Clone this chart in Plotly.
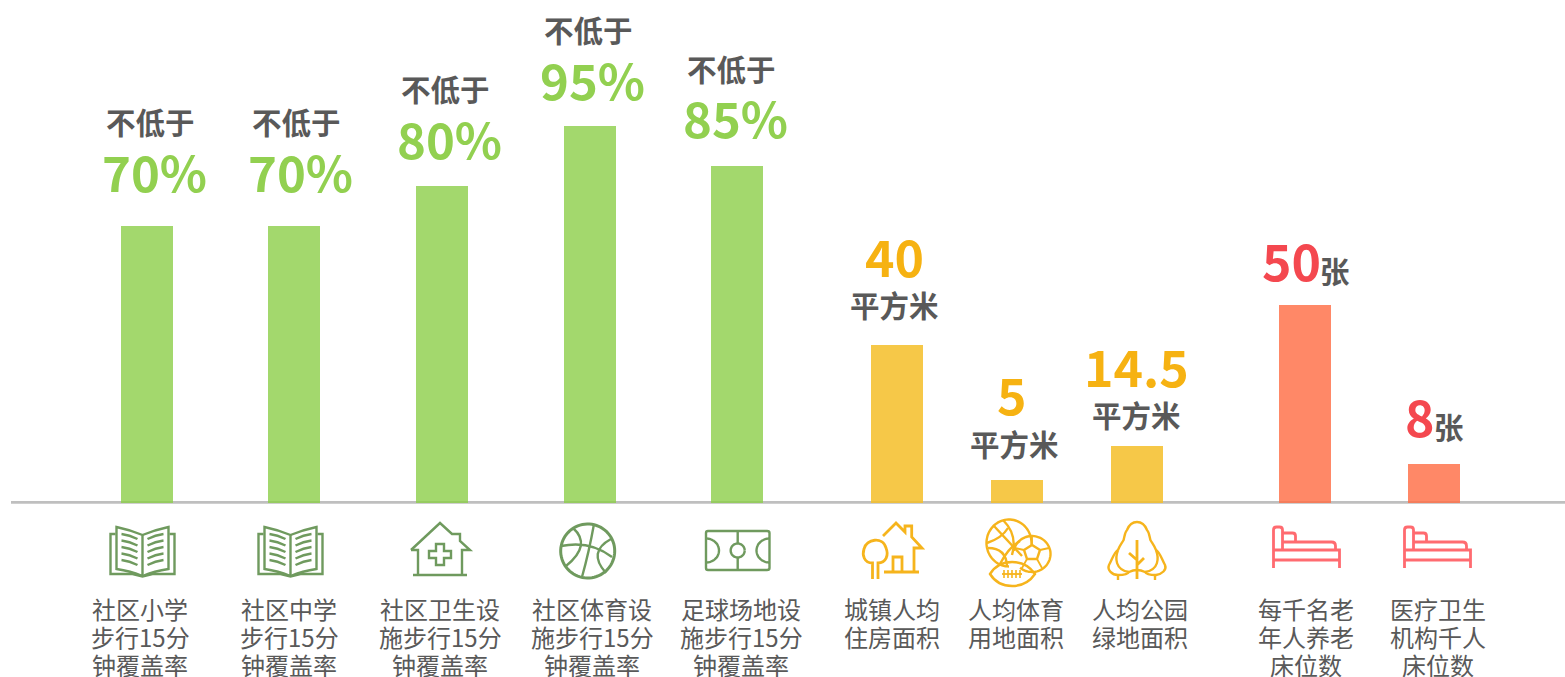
import numpy as np
import plotly.graph_objects as go

# ---------- data ----------
green_categories = ["社区小学<br>步行15分<br>钟覆盖率", "社区中学<br>步行15分<br>钟覆盖率", "社区卫生设<br>施步行15分<br>钟覆盖率",
                    "社区体育设<br>施步行15分<br>钟覆盖率", "足球场地设<br>施步行15分<br>钟覆盖率"]
yellow_categories = ["城镇人均<br>住房面积", "人均体育<br>用地面积", "人均公园<br>绿地面积"]
red_categories = ["每千名老<br>年人养老<br>床位数", "医疗卫生<br>机构千人<br>床位数"]
green_values = [69.25, 69.25, 79.25, 94.25, 84.25]
yellow_values = [39.5, 5.75, 14.25]
red_values = [49.5, 9.75]
green_labels = ["70%", "70%", "80%", "95%", "85%"]
yellow_labels = ["40", "5", "14.5"]
red_labels = ["50", "8"]
prefix_text = "不低于"
area_unit = "平方米"
bed_unit = "张"

# ---------- layout constants ----------
W, H = 1565, 677
BASE = 503
green_x = [147, 294, 442, 590, 737]
yellow_x = [897, 1017, 1137]
red_x = [1305, 1434]
GREY = "#595959"
BAR_G, BAR_Y, BAR_R = "rgba(140,206,72,0.8)", "rgba(245,190,40,0.85)", "rgba(255,110,70,0.82)"
TXT_G, TXT_Y, TXT_R = "#92D050", "#F6B212", "#F4484F"
ICON_G, ICON_Y, ICON_R = "#6F9A5E", "#F6B41C", "#FF6B70"
FONT = "Noto Sans CJK SC"

fig = go.Figure()
for xs, ys, c in [(green_x, green_values, BAR_G), (yellow_x, yellow_values, BAR_Y), (red_x, red_values, BAR_R)]:
    fig.add_trace(go.Bar(x=xs, y=ys, width=52, marker=dict(color=c, line=dict(width=0)),
                         hoverinfo="skip", showlegend=False))
fig.add_trace(go.Scatter(x=[0], y=[0], yaxis="y2", mode="markers", marker=dict(opacity=0),
                         hoverinfo="skip", showlegend=False))


def note(x, y, text, size, color, bold=True):
    fig.add_annotation(x=x, y=y, xref="x", yref="y2", text=text, showarrow=False, xanchor="center", yanchor="middle",
                       font=dict(family=FONT, size=size, color=color, weight=700 if bold else 400))


# value labels
for x, y, t in zip([150, 296, 445, 588, 731], [121, 121, 88, 29, 68], [prefix_text] * 5):
    note(x, y, t, 29.5, GREY)
for x, y, t in zip([154, 300, 449, 592, 735], [170, 170, 137, 78, 116], green_labels):
    note(x, y, t, 49, TXT_G)
for x, y, t in zip([894, 1012, 1136], [255, 393, 365], yellow_labels):
    note(x, y, t, 50, TXT_Y)
for x, y in zip([894, 1014, 1136], [304, 443, 414]):
    note(x, y, area_unit, 29.5, GREY)
for x, y, t in zip([1291, 1420], [259, 415], red_labels):
    note(x, y, t, 50, TXT_R)
for x, y in zip([1335, 1449], [270, 426]):
    note(x, y, bed_unit, 29.5, GREY)

# category labels, one annotation per line for the tight leading
cat_x = [140, 289, 440, 592, 741, 892, 1016, 1140, 1306, 1438]
for x, cat in zip(cat_x, green_categories + yellow_categories + red_categories):
    for i, line in enumerate(cat.split("<br>")):
        note(x, 608 + 28 * i, line, 24, GREY, bold=False)


# ---------- icons, in pixel coordinates ----------
def shape(path, color, width=2.4):
    fig.add_shape(type="path", path=path, xref="x", yref="y2", line=dict(color=color, width=width),
                  fillcolor="rgba(0,0,0,0)", layer="above")


def arc(cx, cy, rx, ry, a0, a1, n=48):
    t = np.radians(np.linspace(a0, a1, n))
    pts = [(cx + rx * np.cos(v), cy + ry * np.sin(v)) for v in t]
    return "M" + " L".join(f"{a:.1f},{b:.1f}" for a, b in pts)


def book(cx):
    c = ICON_G
    s = cx
    shape(f"M{s-27},534 L{s-32},534 L{s-32},574 L{s-10},574 L{s},576.5 L{s+10},574 L{s+32},574 L{s+32},534 L{s+27},534", c)
    shape(f"M{s},576 L{s},535 Q{s-12},530 {s-26},527 L{s-26},569 Q{s-12},571 {s},576", c)
    shape(f"M{s},535 Q{s+12},530 {s+26},527 L{s+26},569 Q{s+12},571 {s},576", c)
    for y in [534, 540.5, 547, 553.5, 560]:
        shape(f"M{s-21},{y} Q{s-13},{y+1} {s-5},{y+5}", c)
        shape(f"M{s+21},{y} Q{s+13},{y+1} {s+5},{y+5}", c)


book(142.5)
book(290.5)

# clinic house
c = ICON_G
shape("M411,550 L440,523 L452,534 L460,534 L460,541 L470,550 L462,550 L462,574", c)
shape("M411,550 L418,550 L418,574", c)
shape("M413,575 L467,575", c)
shape("M436,544 L444,544 L444,551 L451,551 L451,558 L444,558 L444,565 L436,565 L436,558 L429,558 L429,551 L436,551 Z", c)

# basketball
shape(arc(587.7, 551, 27, 27, 0, 360, 72), c, 3)
shape("M594,524 Q589,552 582,577", c)
shape("M561,546 Q590,540 612,557", c)
shape("M573,528 Q592,545 566,566", c)
shape("M611,539 Q587,552 606,573", c)

# pitch
shape("M708,531 L767,531 Q769.5,531 769.5,533 L769.5,568 Q769.5,570 767,570 L708,570 Q706,570 706,568 L706,533 Q706,531 708,531 Z", c)
shape("M737.7,531 L737.7,543 M737.7,558 L737.7,570", c)
shape(arc(737.7, 550.5, 7, 7, 0, 360, 48), c)
shape(arc(706, 550.5, 13, 12, -90, 90), c)
shape(arc(769.5, 550.5, 13, 12, 90, 270), c)

# house and tree
c = ICON_Y
shape("M872.5,579 L872.5,563 C864,563 862,555 864,549 C866,539 883,536 886,548 C889,555 886,563 878,563 L878,579", c, 2.8)
shape("M883,536 L896,523 L905,532 L905,526 L911.7,526 L911.7,537 L922,548 L914,548 L914,572", c, 2.8)
shape("M884,572 L919,572", c, 2.8)
shape("M893,572 L893,557 L902,557 L902,572", c, 2.8)

# sports balls
shape(arc(1009, 543, 22.5, 23.5, 90, 360, 60) + " " + arc(1009, 543, 22.5, 23.5, 0, 5, 4).replace("M", "L"), c)
shape(arc(1032, 554, 18.5, 18, -170, 130, 60), c)
shape("M1003,520 Q1018,535 1012,555", c)
shape("M994,526 L1022,556", c)
shape("M987,543 Q1002,538 1008,528", c)
shape("M988,548 Q1006,548 1007,566", c)
shape("M1000,564 Q1008,548 1020,541", c)
shape("M1024,550 L1032,545 L1040,550 L1037,559 L1027,559 Z", c)
shape("M1032,545 L1032,537 M1024,550 L1015,548 M1040,550 L1049,548 M1027,559 L1022,568 M1037,559 L1042,568", c, 1.8)
shape("M990,574 C1000,558 1024,558 1035,574 C1024,590 1000,590 990,574 Z", c)
shape("M1002,574 L1022,574", c, 1.8)
for x in [1004, 1008, 1012, 1016, 1020]:
    shape(f"M{x},570 L{x},578", c, 1.6)

# tree
shape("M1118,550 C1120,545 1122,543 1123.6,540 C1125,534 1125,532 1127,530 C1129,525 1132,522 1137,522 "
      "C1142,522 1145,525 1147,530 C1149,532 1149,534 1150.4,540 C1152,543 1154,545 1156,550 "
      "C1160,552 1162,560 1165,565 C1167,570 1162,574 1156,575 C1150,575 1146,574 1145,572 "
      "C1141,570 1139,570 1137,570 C1135,570 1133,570 1129,572 C1128,574 1124,575 1118,575 "
      "C1112,575 1107,570 1109,565 C1112,560 1114,552 1118,550", c)
shape("M1118,550 C1115,558 1115,570 1129,572 M1156,550 C1159,558 1159,570 1145,572", c)
shape("M1137,540 L1137,579 M1129,553 L1137,560 M1144,558 L1137,565", c, 2.8)
shape("M1118,575 L1118,580 M1155,575 L1155,580", c)


def bed(x):
    c = ICON_R
    shape(f"M{x},568 L{x},530 Q{x},527 {x+3},527 L{x+6},527 Q{x+9},527 {x+9},530 L{x+9},550", c, 2.8)
    shape(f"M{x+9},533 L{x+19},533 Q{x+22},533 {x+22},536 L{x+22},542", c, 2.8)
    shape(f"M{x+9},542 L{x+58},542 Q{x+62},542 {x+62},546 L{x+62},550", c, 2.8)
    shape(f"M{x},550 L{x+66},550 L{x+66},568 M{x},560 L{x+66},560", c, 2.8)


bed(1273.5)
bed(1404.5)

# baseline
fig.add_shape(type="line", x0=11, x1=W, y0=502.4, y1=502.4, xref="x", yref="y2",
              line=dict(color="#BFBFBF", width=2.6), layer="below")

fig.update_layout(
    width=W, height=H, margin=dict(l=0, r=0, t=0, b=0), paper_bgcolor="white", plot_bgcolor="white",
    barmode="overlay", showlegend=False,
    xaxis=dict(range=[0, W], visible=False, fixedrange=True),
    yaxis=dict(range=[-(H - BASE) / 4, BASE / 4], visible=False, fixedrange=True),
    yaxis2=dict(range=[H, 0], visible=False, overlaying="y", fixedrange=True),
)
fig.write_html("out.html", config=dict(displayModeBar=False),
               post_script="document.body.style.margin='0';document.body.style.overflow='hidden';")
